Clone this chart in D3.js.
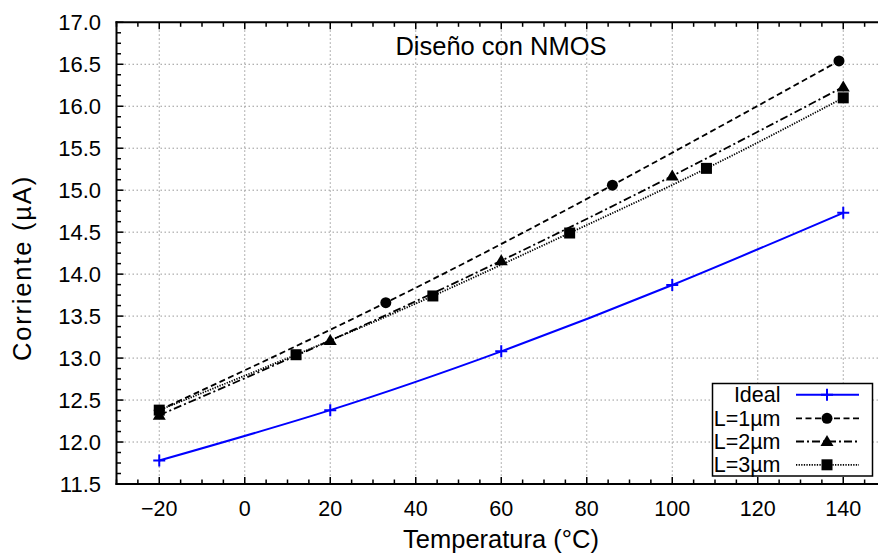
<!DOCTYPE html>
<html>
<head>
<meta charset="utf-8">
<script src="https://cdn.jsdelivr.net/npm/d3@7"></script>
<style>
  html, body { margin: 0; padding: 0; background: #fff; }
  svg { display: block; font-family: "Liberation Sans", Arial, sans-serif; }
</style>
</head>
<body>
<svg id="chart" width="878" height="555"></svg>
<script>
// Corriente de salida frente a temperatura, diseño con NMOS
const tIdeal = [-20, 20, 60, 100, 140];
const iIdeal = [11.78, 12.38, 13.08, 13.87, 14.73];

const tL1 = [-20, 33, 86, 139];
const iL1 = [12.38, 13.66, 15.06, 16.54];

const tL2 = [-20, 20, 60, 100, 140];
const iL2 = [12.32, 13.21, 14.16, 15.17, 16.23];

const tL3 = [-20, 12, 44, 76, 108, 140];
const iL3 = [12.38, 13.04, 13.74, 14.49, 15.26, 16.10];

const xTicks = [-20, 0, 20, 40, 60, 80, 100, 120, 140];
const yTicks = [11.5, 12.0, 12.5, 13.0, 13.5, 14.0, 14.5, 15.0, 15.5, 16.0, 16.5, 17.0];

const legendNames = ["Ideal", "L=1\u00b5m", "L=2\u00b5m", "L=3\u00b5m"];

const svg = d3.select("#chart");
const plotLeft = 116.5, plotRight = 886, plotTop = 22.3, plotBottom = 484;

const x = d3.scaleLinear().domain([-30, 150]).range([plotLeft, plotRight]);
const y = d3.scaleLinear().domain([11.5, 17]).range([plotBottom, plotTop]);

const zip = (a, b) => a.map((v, i) => [v, b[i]]);

const series = [
  { name: legendNames[0], pts: zip(tIdeal, iIdeal), color: "#0000ff", dash: null, width: 2, marker: "plus" },
  { name: legendNames[1], pts: zip(tL1, iL1), color: "#000", dash: "6,3.5", width: 1.8, marker: "circle" },
  { name: legendNames[2], pts: zip(tL2, iL2), color: "#000", dash: "8,3,2,3", width: 1.8, marker: "triangle" },
  { name: legendNames[3], pts: zip(tL3, iL3), color: "#000", dash: "1.3,1.3", width: 1.8, marker: "square" }
];

// Grid (dotted)
const grid = svg.append("g").attr("stroke", "#999").attr("stroke-width", 1).attr("stroke-dasharray", "1.5,2.5");
xTicks.forEach(t => {
  grid.append("line").attr("x1", x(t)).attr("x2", x(t)).attr("y1", plotTop).attr("y2", plotBottom);
});
yTicks.filter(v => v > 11.5 && v < 17).forEach(v => {
  grid.append("line").attr("x1", plotLeft).attr("x2", plotRight).attr("y1", y(v)).attr("y2", y(v));
});

// Frame lines: left, bottom, top
const frame = svg.append("g").attr("stroke", "#000").attr("stroke-width", 2).attr("fill", "none");
frame.append("line").attr("x1", plotLeft).attr("x2", plotLeft).attr("y1", plotTop - 1).attr("y2", plotBottom + 1);
frame.append("line").attr("x1", plotLeft - 1).attr("x2", plotRight).attr("y1", plotBottom).attr("y2", plotBottom);
frame.append("line").attr("x1", plotLeft - 1).attr("x2", plotRight).attr("y1", plotTop).attr("y2", plotTop);

// Ticks, pointing inward
const ticks = svg.append("g").attr("stroke", "#000").attr("stroke-width", 1.5);
d3.range(-30, 151, 5).forEach(t => {
  const major = xTicks.includes(t);
  const len = major ? 7 : 4.5;
  ticks.append("line").attr("x1", x(t)).attr("x2", x(t)).attr("y1", plotBottom).attr("y2", plotBottom - len);
  ticks.append("line").attr("x1", x(t)).attr("x2", x(t)).attr("y1", plotTop).attr("y2", plotTop + len);
});
d3.range(0, 45).map(i => 11.5 + i * 0.125).forEach(v => {
  const major = Math.abs(v * 2 - Math.round(v * 2)) < 1e-6;
  const len = major ? 7 : 4.5;
  ticks.append("line").attr("x1", plotLeft).attr("x2", plotLeft + len).attr("y1", y(v)).attr("y2", y(v));
});

// Tick labels
svg.append("g").selectAll("text").data(xTicks).join("text")
  .attr("x", d => x(d)).attr("y", 516)
  .attr("text-anchor", "middle").attr("font-size", 21.5).attr("fill", "#000")
  .text(d => d < 0 ? "\u2212" + Math.abs(d) : d);
svg.append("g").selectAll("text").data(yTicks).join("text")
  .attr("x", 101).attr("y", d => y(d) + 7.5)
  .attr("text-anchor", "end").attr("font-size", 22).attr("fill", "#000")
  .text(d => d.toFixed(1));

// Axis titles
svg.append("text").attr("x", 501).attr("y", 548).attr("text-anchor", "middle")
  .attr("font-size", 25.5).attr("fill", "#000").text("Temperatura (\u00b0C)");
svg.append("text").attr("transform", "translate(31,268) rotate(-90)").attr("text-anchor", "middle")
  .attr("font-size", 25.5).attr("letter-spacing", 1.8).attr("fill", "#000").text("Corriente (\u00b5A)");
svg.append("text").attr("x", 501).attr("y", 55).attr("text-anchor", "middle")
  .attr("font-size", 25.5).attr("fill", "#000").text("Dise\u00f1o con NMOS");

// Markers
function drawMarker(g, kind, cx, cy, color) {
  if (kind === "plus") {
    g.append("path").attr("d", `M${cx - 6},${cy}H${cx + 6}M${cx},${cy - 6}V${cy + 6}`)
      .attr("stroke", color).attr("stroke-width", 2).attr("fill", "none");
  } else if (kind === "circle") {
    g.append("circle").attr("cx", cx).attr("cy", cy).attr("r", 5.5).attr("fill", color);
  } else if (kind === "triangle") {
    g.append("path").attr("d", `M${cx},${cy - 6.5}L${cx + 6.5},${cy + 4.5}L${cx - 6.5},${cy + 4.5}Z`).attr("fill", color);
  } else if (kind === "square") {
    g.append("rect").attr("x", cx - 5.5).attr("y", cy - 5.5).attr("width", 11).attr("height", 11).attr("fill", color);
  }
}

const line = d3.line().x(d => x(d[0])).y(d => y(d[1])).curve(d3.curveNatural);
const plot = svg.append("g");
series.forEach(s => {
  plot.append("path").attr("d", line(s.pts)).attr("fill", "none")
    .attr("stroke", s.color).attr("stroke-width", s.width)
    .attr("stroke-dasharray", s.dash);
});
series.forEach(s => {
  const g = plot.append("g");
  s.pts.forEach(p => drawMarker(g, s.marker, x(p[0]), y(p[1]), s.color));
});

// Legend
const lg = svg.append("g");
lg.append("rect").attr("x", 712.5).attr("y", 383.5).attr("width", 160).attr("height", 92.5)
  .attr("fill", "#fff").attr("stroke", "#000").attr("stroke-width", 1.5);
const rowY = [394.7, 418.3, 441.5, 464.8];
series.forEach((s, i) => {
  lg.append("text").attr("x", 780.5).attr("y", rowY[i] + 7.5).attr("text-anchor", "end")
    .attr("font-size", 21.5).attr("fill", "#000").text(s.name);
  lg.append("line").attr("x1", 796).attr("x2", 859).attr("y1", rowY[i]).attr("y2", rowY[i])
    .attr("stroke", s.color).attr("stroke-width", s.width).attr("stroke-dasharray", s.dash);
  drawMarker(lg, s.marker, 827, rowY[i], s.color);
});
</script>
</body>
</html>
